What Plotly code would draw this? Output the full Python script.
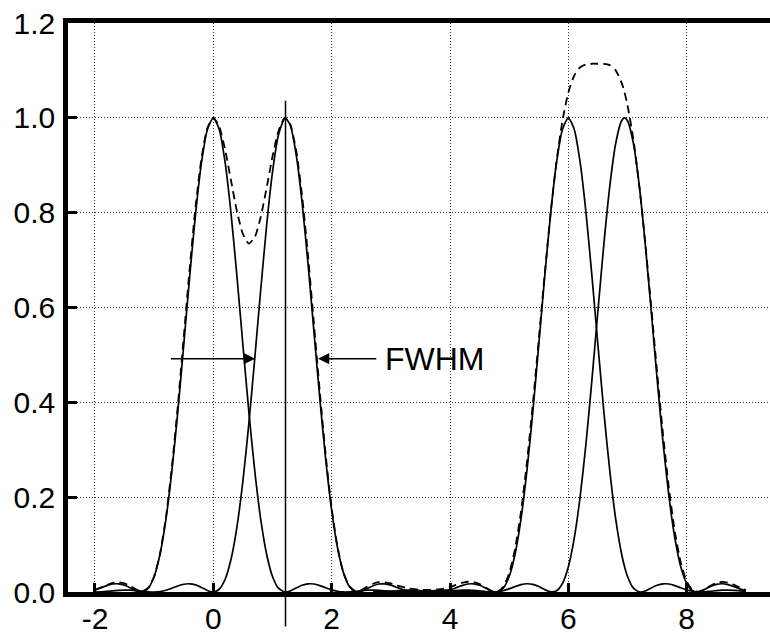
import plotly.graph_objects as go

# ---------------- data ----------------
x_left = [-2.0, -1.9, -1.8, -1.7, -1.6, -1.5, -1.4, -1.3, -1.2, -1.1,
          -1.0, -0.9, -0.8, -0.7, -0.6, -0.5, -0.4, -0.3, -0.2, -0.1,
          0.0, 0.1, 0.2, 0.3, 0.4, 0.5, 0.6, 0.7, 0.8, 0.9,
          1.0, 1.1, 1.2, 1.22, 1.3, 1.4, 1.5, 1.6, 1.7, 1.8, 1.9,
          2.0, 2.1, 2.2, 2.3, 2.4, 2.5, 2.6, 2.7, 2.8, 2.9,
          3.0, 3.1, 3.2, 3.3, 3.4, 3.5, 3.6, 3.7, 3.8, 3.9,
          4.0, 4.1, 4.2, 4.3, 4.4, 4.5]

peak_a = [0.0045, 0.0089, 0.0135, 0.0168, 0.0172, 0.0141, 0.0085, 0.0022, 0.0002, 0.0081,
          0.0328, 0.0802, 0.1543, 0.2558, 0.3805, 0.5209, 0.6645, 0.7975, 0.9053, 0.9756,
          1.0, 0.9756, 0.9053, 0.7975, 0.6645, 0.5209, 0.3805, 0.2558, 0.1543, 0.0802,
          0.0328, 0.0081, 0.0002, 0.0, 0.0022, 0.0085, 0.0141, 0.0172, 0.0168, 0.0135, 0.0089,
          0.0045, 0.0015, 0.0001, 0.0003, 0.0015, 0.0029, 0.0039, 0.0041, 0.0036, 0.0025,
          0.0014, 0.0005, 0.0, 0.0001, 0.0006, 0.0012, 0.0015, 0.0016, 0.0013, 0.0008,
          0.0004, 0.0001, 0.0, 0.0001, 0.0002, 0.0004]

peak_b = [0.0, 0.0004, 0.0012, 0.0023, 0.0034, 0.0041, 0.0040, 0.0031, 0.0018, 0.0005,
          0.0, 0.0010, 0.0038, 0.0080, 0.0126, 0.0163, 0.0173, 0.0151, 0.0096, 0.0033,
          0.0, 0.0058, 0.0269, 0.0695, 0.1381, 0.2341, 0.3544, 0.4924, 0.6359, 0.7718,
          0.8853, 0.9637, 0.9990, 1.0, 0.9843, 0.9227, 0.8215, 0.6924, 0.5497, 0.4078, 0.2786,
          0.1723, 0.0928, 0.0403, 0.0115, 0.0008, 0.0013, 0.0071, 0.0132, 0.0169, 0.0170,
          0.0144, 0.0098, 0.0054, 0.0019, 0.0002, 0.0001, 0.0012, 0.0026, 0.0037, 0.0041,
          0.0037, 0.0028, 0.0016, 0.0006, 0.0001, 0.0]

x_right = [2.7, 2.8, 2.9, 3.0, 3.1, 3.2, 3.3, 3.4, 3.5, 3.6, 3.7, 3.8, 3.9,
           4.0, 4.1, 4.2, 4.3, 4.4, 4.5, 4.6, 4.7, 4.8, 4.9,
           5.0, 5.1, 5.2, 5.3, 5.4, 5.5, 5.6, 5.7, 5.8, 5.9,
           6.0, 6.1, 6.2, 6.3, 6.4, 6.5, 6.6, 6.7, 6.8, 6.9, 6.95,
           7.0, 7.1, 7.2, 7.3, 7.4, 7.5, 7.6, 7.7, 7.8, 7.9,
           8.0, 8.1, 8.2, 8.3, 8.4, 8.5, 8.6, 8.7, 8.8, 8.9, 9.0]

peak_c = [0.0001, 0.0, 0.0005, 0.0014, 0.0025, 0.0036, 0.0041, 0.0039, 0.0029, 0.0015, 0.0003, 0.0001, 0.0015,
          0.0045, 0.0089, 0.0135, 0.0168, 0.0172, 0.0141, 0.0085, 0.0022, 0.0002, 0.0081,
          0.0328, 0.0802, 0.1543, 0.2558, 0.3805, 0.5209, 0.6645, 0.7975, 0.9053, 0.9756,
          1.0, 0.9756, 0.9053, 0.7975, 0.6645, 0.5209, 0.3805, 0.2558, 0.1543, 0.0802, 0.0534,
          0.0328, 0.0081, 0.0002, 0.0022, 0.0085, 0.0141, 0.0172, 0.0168, 0.0135, 0.0089,
          0.0045, 0.0015, 0.0001, 0.0003, 0.0015, 0.0029, 0.0039, 0.0041, 0.0036, 0.0025, 0.0014]

peak_d = [0.0, 0.0001, 0.0004, 0.0008, 0.0013, 0.0016, 0.0015, 0.0012, 0.0007, 0.0002, 0.0, 0.0002, 0.0009,
          0.0020, 0.0031, 0.0039, 0.0041, 0.0035, 0.0022, 0.0008, 0.0, 0.0005, 0.0028,
          0.0066, 0.0113, 0.0154, 0.0174, 0.0161, 0.0115, 0.0051, 0.0004, 0.0025, 0.0180,
          0.0534, 0.1137, 0.2015, 0.3153, 0.4496, 0.5931, 0.7332, 0.8554, 0.9458, 0.9939, 1.0,
          0.9939, 0.9458, 0.8554, 0.7332, 0.5931, 0.4496, 0.3153, 0.2015, 0.1137, 0.0534,
          0.0180, 0.0025, 0.0004, 0.0051, 0.0115, 0.0161, 0.0174, 0.0154, 0.0113, 0.0066, 0.0028]

x_total = [-2.0, -1.9, -1.8, -1.7, -1.6, -1.5, -1.4, -1.3, -1.2, -1.1,
           -1.0, -0.9, -0.8, -0.7, -0.6, -0.5, -0.4, -0.3, -0.2, -0.1,
           0.0, 0.1, 0.2, 0.3, 0.4, 0.5, 0.6, 0.7, 0.8, 0.9,
           1.0, 1.1, 1.2, 1.22, 1.3, 1.4, 1.5, 1.6, 1.7, 1.8, 1.9,
           2.0, 2.1, 2.2, 2.3, 2.4, 2.5, 2.6, 2.7, 2.8, 2.9,
           3.0, 3.1, 3.2, 3.3, 3.4, 3.5, 3.6, 3.7, 3.8, 3.9,
           4.0, 4.1, 4.2, 4.3, 4.4, 4.5, 4.6, 4.7, 4.8, 4.9,
           5.0, 5.1, 5.2, 5.3, 5.4, 5.5, 5.6, 5.7, 5.8, 5.9,
           6.0, 6.1, 6.2, 6.3, 6.4, 6.5, 6.6, 6.7, 6.8, 6.9, 6.95,
           7.0, 7.1, 7.2, 7.3, 7.4, 7.5, 7.6, 7.7, 7.8, 7.9,
           8.0, 8.1, 8.2, 8.3, 8.4, 8.5, 8.6, 8.7, 8.8, 8.9, 9.0]

sum_total = [0.0045, 0.0093, 0.0147, 0.0191, 0.0206, 0.0182, 0.0125, 0.0053, 0.0020, 0.0086,
             0.0328, 0.0812, 0.1581, 0.2638, 0.3931, 0.5372, 0.6818, 0.8126, 0.9149, 0.9789,
             1.0, 0.9814, 0.9322, 0.8670, 0.8026, 0.7550, 0.7349, 0.7482, 0.7902, 0.8520,
             0.9181, 0.9718, 0.9992, 1.0, 0.9865, 0.9312, 0.8356, 0.7096, 0.5665, 0.4213, 0.2875,
             0.1768, 0.0943, 0.0404, 0.0118, 0.0023, 0.0042, 0.0110, 0.0174, 0.0206, 0.0204,
             0.0180, 0.0141, 0.0106, 0.0076, 0.0059, 0.0049, 0.0044, 0.0045, 0.0053, 0.0073,
             0.0106, 0.0149, 0.0190, 0.0216, 0.0210, 0.0167, 0.0093, 0.0022, 0.0007, 0.0109,
             0.0394, 0.0915, 0.1697, 0.2732, 0.3966, 0.5324, 0.6696, 0.7979, 0.9078, 0.9936,
             1.0534, 1.0893, 1.1068, 1.1128, 1.1141, 1.1140, 1.1137, 1.1112, 1.1001, 1.0741, 1.0534,
             1.0267, 0.9539, 0.8556, 0.7354, 0.6016, 0.4637, 0.3325, 0.2183, 0.1272, 0.0623,
             0.0225, 0.0040, 0.0005, 0.0054, 0.0130, 0.0190, 0.0213, 0.0195, 0.0149, 0.0091, 0.0042]

x_tick_values = [-2, 0, 2, 4, 6, 8]
x_tick_labels = ["-2", "0", "2", "4", "6", "8"]
y_tick_values = [0.0, 0.2, 0.4, 0.6, 0.8, 1.0, 1.2]
y_tick_labels = ["0.0", "0.2", "0.4", "0.6", "0.8", "1.0", "1.2"]

marker_x = 1.22
marker_y = [-0.073, 1.036]
fwhm_y = 0.492
left_arrow_x = [-0.742, 0.705]
right_arrow_x = [2.78, 1.77]
fwhm_label_x = 2.86
fwhm_label = "FWHM"

assert len(x_left) == len(peak_a) == len(peak_b)
assert len(x_right) == len(peak_c) == len(peak_d)
assert len(x_total) == len(sum_total)

# ---------------- figure ----------------
X_RANGE = [-2.456, 9.408]
Y_RANGE = [0.0, 1.2]
FONT = "Liberation Sans, Arial, sans-serif"

fig = go.Figure()
fig.add_trace(go.Scatter(x=x_total, y=sum_total, mode="lines",
                         line=dict(color="black", width=1.8, dash="8px,5px",
                                   shape="spline", smoothing=0.6)))
for xs, ys in [(x_left, peak_a), (x_left, peak_b), (x_right, peak_c), (x_right, peak_d)]:
    fig.add_trace(go.Scatter(x=xs, y=ys, mode="lines",
                             line=dict(color="black", width=1.7,
                                       shape="spline", smoothing=0.6)))

fig.add_shape(type="line", xref="x", yref="paper",
              x0=marker_x, x1=marker_x,
              y0=marker_y[0] / Y_RANGE[1], y1=marker_y[1] / Y_RANGE[1],
              line=dict(color="black", width=1.5))

arrow_common = dict(xref="x", yref="y", axref="x", ayref="y", text="",
                    showarrow=True, arrowhead=2, arrowsize=1.6,
                    arrowwidth=1.4, arrowcolor="black", standoff=0)
fig.add_annotation(x=left_arrow_x[1], y=fwhm_y, ax=left_arrow_x[0], ay=fwhm_y, **arrow_common)
fig.add_annotation(x=right_arrow_x[1], y=fwhm_y, ax=right_arrow_x[0], ay=fwhm_y, **arrow_common)
fig.add_annotation(x=fwhm_label_x, y=fwhm_y, xref="x", yref="y", text=fwhm_label,
                   showarrow=False, xanchor="left", yanchor="middle",
                   font=dict(family=FONT, size=32, color="black"))

axis_common = dict(showline=True, linecolor="black", linewidth=4.5,
                   ticks="inside", ticklen=9, tickwidth=3, tickcolor="black",
                   showgrid=True, gridcolor="#333333", gridwidth=1, griddash="1px,2px",
                   zeroline=False, tickfont=dict(family=FONT, size=30, color="black"))

fig.update_layout(
    width=770, height=634,
    margin=dict(l=68, r=0, t=23, b=42, pad=0),
    paper_bgcolor="white", plot_bgcolor="white",
    showlegend=False,
    xaxis=dict(range=X_RANGE, tickvals=x_tick_values, ticktext=x_tick_labels,
               mirror=True, ticklabelstandoff=-4, **axis_common),
    yaxis=dict(range=Y_RANGE, tickvals=y_tick_values, ticktext=y_tick_labels,
               mirror=False, ticklabelstandoff=2, **axis_common),
)

fig.write_html("out.html")
